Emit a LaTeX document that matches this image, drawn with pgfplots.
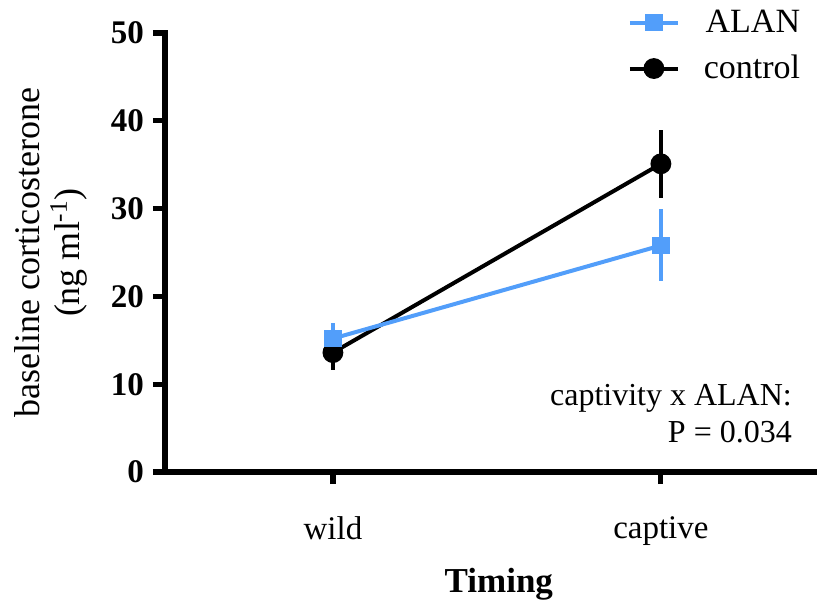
\documentclass[border=0pt]{standalone}
\usepackage{pgfplots}
\pgfplotsset{compat=1.18}
\usepackage{fontspec}
\setmainfont{Liberation Serif}
\definecolor{alanblue}{RGB}{82,158,250}
\begin{document}
\begin{tikzpicture}
\begin{axis}[
  scale only axis,
  width=326pt, height=219.5pt,
  xmin=-0.512, xmax=1.476,
  ymin=0, ymax=50,
  axis x line*=bottom, axis y line*=left,
  axis line style={line width=2.6pt, line cap=rect},
  xtick={0,1}, xticklabels={wild,captive},
  ytick={0,10,20,30,40,50},
  tick align=outside,
  major tick length=6pt,
  tick style={line width=2.6pt, black},
  /pgf/number format/assume math mode=true,
  yticklabel style={font=\fontsize{16.5}{18}\selectfont\bfseries, xshift=-1pt},
  xticklabel style={font=\fontsize{16.5}{18}\selectfont, yshift=-13pt},
  xlabel={Timing},
  xlabel style={font=\fontsize{17.5}{20}\selectfont\bfseries, at={(axis description cs:0.512,-0.256)}, anchor=center},
  ylabel={baseline corticosterone\\(ng ml\textsuperscript{-1})},
  ylabel style={font=\fontsize{18}{20}\selectfont, align=center, at={(axis description cs:-0.175,0.5)}, anchor=center, rotate=0},
  clip=false,
  reverse legend,
  legend cell align=right,
  legend style={at={(axis description cs:0.99,1.072)}, anchor=north east, draw=none, fill=none,
    font=\fontsize{17}{20}\selectfont, row sep=6pt,
    /tikz/every odd column/.append style={column sep=10pt}},
  legend image code/.code={\draw[mark repeat=2,mark phase=2] plot coordinates {(0cm,0cm)(0.42cm,0cm)(0.84cm,0cm)};},
]
\coordinate (O) at (rel axis cs:0,0);
\addplot[black, line width=2pt, mark=*, mark size=4.2pt, mark options={solid, fill=black},
  error bars/.cd, y dir=both, y explicit, error mark=none, error bar style={line width=2pt, black}]
  coordinates {(0,13.6) +- (0,2.0) (1,35.1) +- (0,3.9)};
\addlegendentry{control}
\addplot[alanblue, line width=2pt, mark=square*, mark size=3.4pt, mark options={solid, fill=alanblue},
  error bars/.cd, y dir=both, y explicit, error mark=none, error bar style={line width=2pt, alanblue}]
  coordinates {(0,15.2) +- (0,1.8) (1,25.8) +- (0,4.1)};
\addlegendentry{ALAN}
\node[anchor=east, align=right, font=\fontsize{16}{18.5}\selectfont, inner sep=0pt] at (axis description cs:0.962,0.132) {captivity x ALAN:\\P = 0.034};
\end{axis}
\pgfresetboundingbox
\path[use as bounding box] (O) ++(-82.5pt,-69.5pt) rectangle ++(408.5pt,305.5pt);
\end{tikzpicture}
\end{document}
